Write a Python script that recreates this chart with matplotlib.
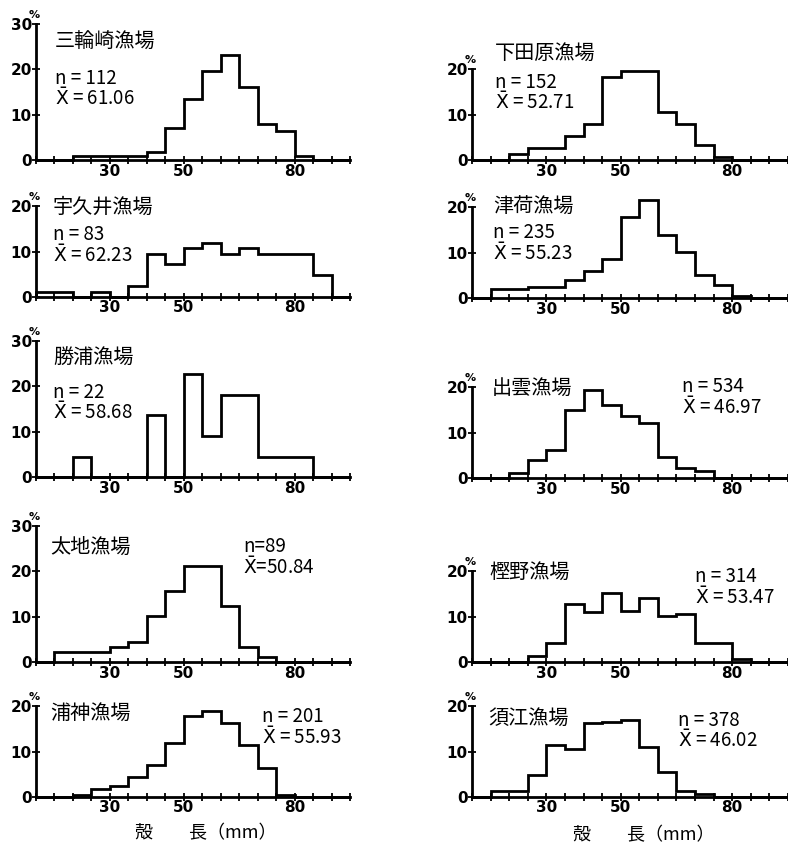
import matplotlib
import matplotlib.pyplot as plt
import numpy as np
from matplotlib.ticker import FixedLocator, NullFormatter

matplotlib.use("Agg")

plt.rcParams["font.family"] = ["Noto Sans CJK JP", "DejaVu Sans"]

# shell length classes, 5 mm bins from 10 to 95 mm
edges = np.arange(10, 100, 5)

# percent frequency per bin (10-15, 15-20, ... 90-95)
miwasaki = [0, 0, 0.9, 0.9, 0.9, 0.9, 1.8, 7.1, 13.4, 19.6, 23.2, 16.1, 8.0, 6.3, 0.9, 0, 0]
ukui = [1.2, 1.2, 0, 1.2, 0, 2.4, 9.6, 7.2, 10.8, 12.0, 9.6, 10.8, 9.6, 9.6, 9.6, 4.8, 0]
katsuura = [0, 0, 4.5, 0, 0, 0, 13.6, 0, 22.7, 9.1, 18.2, 18.2, 4.5, 4.5, 4.5, 0, 0]
taiji = [0, 2.2, 2.2, 2.2, 3.4, 4.5, 10.1, 15.7, 21.3, 21.3, 12.4, 3.4, 1.1, 0, 0, 0, 0]
uragami = [0, 0, 0.5, 1.7, 2.5, 4.5, 7.0, 11.9, 17.9, 18.9, 16.4, 11.4, 6.5, 0.5, 0, 0, 0]
shimotahara = [0, 0, 1.3, 2.6, 2.6, 5.3, 7.9, 18.4, 19.7, 19.7, 10.5, 7.9, 3.3, 0.7, 0, 0, 0]
tsuga = [0, 1.9, 1.9, 2.4, 2.4, 4.0, 5.9, 8.6, 17.9, 21.6, 13.9, 10.2, 5.1, 2.9, 0.4, 0, 0]
izumo = [0, 0, 1.1, 4.0, 6.2, 15.1, 19.5, 16.1, 13.6, 12.1, 4.7, 2.2, 1.6, 0, 0, 0, 0]
kashino = [0, 0, 0, 1.3, 4.2, 12.8, 11.0, 15.2, 11.3, 14.1, 10.2, 10.7, 4.1, 4.1, 0.6, 0, 0]
sue = [0, 1.4, 1.4, 4.9, 11.5, 10.6, 16.3, 16.5, 16.9, 11.0, 5.5, 1.3, 0.7, 0, 0, 0, 0]

names = ["三輪崎漁場", "宇久井漁場", "勝浦漁場", "太地漁場", "浦神漁場",
         "下田原漁場", "津荷漁場", "出雲漁場", "樫野漁場", "須江漁場"]
series = [miwasaki, ukui, katsuura, taiji, uragami,
          shimotahara, tsuga, izumo, kashino, sue]
n_values = ["112", "83", "22", "89", "201", "152", "235", "534", "314", "378"]
means = ["61.06", "62.23", "58.68", "50.84", "55.93",
         "52.71", "55.23", "46.97", "53.47", "46.02"]
y_tops = [30, 20, 30, 30, 20, 20, 20, 20, 20, 20]
x_labels = [30, 50, 80]

W, H = 788, 852
PX_PER_PCT = 4.53
X_MIN, X_MAX = 10, 95

# layout in pixels: (axis x, zero-line y), title pos, stats pos
axis_x = [36] * 5 + [472] * 5
axis_w = [314] * 5 + [316] * 5
zero_y = [160, 297, 477, 662, 797, 160, 298, 478, 662, 797]
title_xy = [(55, 42), (53, 207), (53, 358), (50, 547), (50, 713),
            (495, 53), (493, 207), (492, 388), (489, 572), (488, 718)]
stats_xy = [(55, 78), (53, 235), (53, 392), (243, 547), (262, 717),
            (495, 82), (493, 233), (682, 387), (695, 577), (678, 720)]

fig = plt.figure(figsize=(W / 100, H / 100), dpi=100)

for i in range(10):
    top = y_tops[i]
    h = top * PX_PER_PCT
    ax = fig.add_axes([axis_x[i] / W, 1 - zero_y[i] / H, axis_w[i] / W, h / H])
    ax.stairs(series[i], edges, color="black", linewidth=2, baseline=0,
              clip_on=False, zorder=3)
    ax.set_xlim(X_MIN, X_MAX)
    ax.set_ylim(0, top)
    for s in ["top", "right"]:
        ax.spines[s].set_visible(False)
    for s in ["left", "bottom"]:
        ax.spines[s].set_linewidth(2)
    ax.patch.set_visible(False)

    ax.xaxis.set_major_locator(FixedLocator(np.arange(10, 96, 5)))
    ax.xaxis.set_major_formatter(NullFormatter())
    yt = np.arange(0, top + 1, 10)
    ax.set_yticks(yt)
    ax.set_yticklabels([str(v) for v in yt])
    for lab in ax.get_yticklabels():
        lab.set_family("DejaVu Sans")
        lab.set_fontweight("bold")
        lab.set_fontsize(11)
    ax.tick_params(axis="both", which="both", direction="inout",
                   length=6, width=1.3)
    ax.tick_params(axis="y", pad=0)

    # x labels placed as figure texts under the axis
    for v in x_labels:
        px = axis_x[i] + (v - X_MIN) / (X_MAX - X_MIN) * axis_w[i]
        fig.text(px / W, 1 - (zero_y[i] + 11) / H, str(v), ha="center",
                 va="center", family="DejaVu Sans", fontweight="bold",
                 fontsize=11, zorder=10)

    # percent sign above the y axis
    fig.text((axis_x[i] - 2) / W, 1 - (zero_y[i] - h - 9) / H, "%",
             fontsize=8, fontweight="bold", family="DejaVu Sans",
             ha="center", va="center")

    tx, ty = title_xy[i]
    fig.text(tx / W, 1 - ty / H, names[i], fontsize=14.5, ha="left", va="center")
    sx, sy = stats_xy[i]
    eq = "=" if i == 3 else " = "
    fig.text(sx / W, 1 - sy / H, "n" + eq + n_values[i], fontsize=13.5,
             ha="left", va="center")
    fig.text(sx / W, 1 - (sy + 21) / H, r"$\bar{\mathrm{X}}$" + eq + means[i],
             fontsize=13.5, ha="left", va="center")

fig.text(135 / W, 1 - 833 / H, "殻　　長（mm）", fontsize=13, ha="left", va="center")
fig.text(573 / W, 1 - 835 / H, "殻　　長（mm）", fontsize=13, ha="left", va="center")

plt.savefig("out.png", dpi=100)
plt.close()
